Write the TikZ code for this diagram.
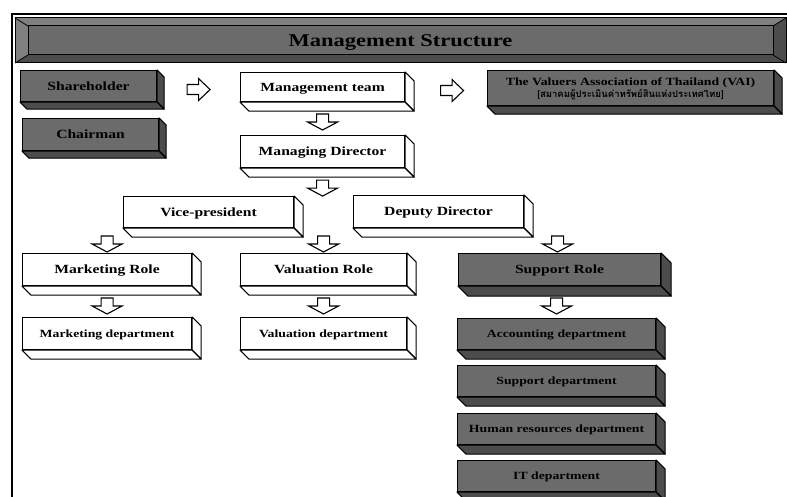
\documentclass[tikz,border=0pt]{standalone}
\usepackage{fontspec}
\setmainfont{Liberation Serif}[FakeStretch=1.25]
\newfontfamily\thaifont[Script=Thai]{Loma}
\usetikzlibrary{calc}

\definecolor{slab}{gray}{0.42}
\definecolor{slabside}{gray}{0.30}
\definecolor{slablight}{gray}{0.50}

\tikzset{
  box/.style={draw, line width=1.1pt, anchor=north west, inner sep=0pt, text depth=0pt,
    font=\bfseries\fontsize{12.5}{14}\selectfont},
  lightbox/.style={box, fill=white},
  darkbox/.style={box, fill=slab, text=black},
  small/.style={font=\bfseries\fontsize{11}{13}\selectfont},
  hollow/.style={draw, line width=1.1pt, fill=white, line join=miter},
  pics/downarrow/.style={code={
    \draw[hollow] (-6,-8) -- (6,-8) -- (6,0) -- (15,0) -- (0,8) -- (-15,0) -- (-6,0) -- cycle;}},
  pics/rightarrow/.style={code={
    \draw[hollow] (-11.5,-5) -- (0,-5) -- (0,-11) -- (11.5,0) -- (0,11) -- (0,5) -- (-11.5,5) -- cycle;}},
}

% side and bottom faces of an extruded box: node, depth, fill colour
\newcommand{\drawdepth}[3]{%
  \draw[line width=1.1pt, line join=round, fill=#3]
    (#1.north east) -- ++(#2,#2) -- ($(#1.south east)+(#2,#2)$) -- (#1.south east) -- cycle;
  \draw[line width=1.1pt, line join=round, fill=#3]
    (#1.south west) -- (#1.south east) -- ($(#1.south east)+(#2,#2)$) -- ($(#1.south west)+(#2,#2)$) -- cycle;
}

\begin{document}
\begin{tikzpicture}[x=1pt, y=-1pt]
\useasboundingbox (0,0) rectangle (787,497);
\clip (0,0) rectangle (787,497);
\fill[white] (0,0) rectangle (787,497);

% outer frame
\draw[line width=1.6pt] (12,500) -- (12,14) -- (790,14);

% title bar with bevelled rim
\fill[slab] (15,18) rectangle (786,63);
\fill[slablight] (15,18) -- (786,18) -- (773,26) -- (28,26) -- cycle;
\fill[slablight] (15,18) -- (28,26) -- (28,55) -- (15,63) -- cycle;
\fill[slabside] (15,63) -- (28,55) -- (773,55) -- (786,63) -- cycle;
\fill[slabside] (786,18) -- (773,26) -- (773,55) -- (786,63) -- cycle;
\draw[line width=1pt] (15,18) rectangle (786,63);
\draw[line width=0.8pt] (15,18) -- (28,26) (15,63) -- (28,55) (786,18) -- (773,26) (786,63) -- (773,55);
\node[draw, line width=1pt, fill=slab, inner sep=0pt, minimum width=745pt, minimum height=29pt,
  text depth=0pt, font=\bfseries\fontsize{18}{20}\selectfont] (title) at (400.5,40.5) {Management Structure};

% top row
\node[darkbox, minimum width=136pt, minimum height=31pt] (sh) at (20,70) {Shareholder};
\drawdepth{sh}{7}{slabside}
\node[darkbox, minimum width=136pt, minimum height=32pt] (ch) at (22,118) {Chairman};
\drawdepth{ch}{7}{slabside}
\node[lightbox, minimum width=164pt, minimum height=29pt] (mt) at (240,72) {Management team};
\drawdepth{mt}{9}{white}
\node[darkbox, small, align=center, minimum width=286pt, minimum height=35pt] (vai) at (487,70)
  {The Valuers Association of Thailand (VAI)\\[-1pt]
   {\thaifont\fontsize{9.5}{11}\selectfont [สมาคมผู้ประเมินค่าทรัพย์สินแห่งประเทศไทย]}};
\drawdepth{vai}{8}{slabside}

% management line
\node[lightbox, minimum width=164pt, minimum height=32pt] (md) at (240,135) {Managing Director};
\drawdepth{md}{9}{white}
\node[lightbox, minimum width=170pt, minimum height=31pt] (vp) at (123,196) {Vice-president};
\drawdepth{vp}{9}{white}
\node[lightbox, minimum width=170pt, minimum height=32pt] (dd) at (353,195) {Deputy Director};
\drawdepth{dd}{9}{white}

% roles
\node[lightbox, minimum width=169pt, minimum height=32pt] (mr) at (22,253) {Marketing Role};
\drawdepth{mr}{9}{white}
\node[lightbox, minimum width=166pt, minimum height=32pt] (vr) at (240,253) {Valuation Role};
\drawdepth{vr}{9}{white}
\node[darkbox, minimum width=202pt, minimum height=32pt] (sr) at (458,253) {Support Role};
\drawdepth{sr}{10}{slabside}

% departments
\node[lightbox, small, minimum width=169pt, minimum height=32pt] (mk) at (22,317) {Marketing department};
\drawdepth{mk}{9}{white}
\node[lightbox, small, minimum width=166pt, minimum height=32pt] (vd) at (240,317) {Valuation department};
\drawdepth{vd}{9}{white}
\node[darkbox, small, minimum width=198pt, minimum height=31pt] (ad) at (457,318) {Accounting department};
\drawdepth{ad}{9}{slabside}
\node[darkbox, small, minimum width=198pt, minimum height=31pt] (sd) at (457,365) {Support department};
\drawdepth{sd}{9}{slabside}
\node[darkbox, small, minimum width=198pt, minimum height=31pt] (hr) at (457,413) {Human resources department};
\drawdepth{hr}{9}{slabside}
\node[darkbox, small, minimum width=198pt, minimum height=31pt] (it) at (457,460) {IT department};
\drawdepth{it}{9}{slabside}

% block arrows between the boxes
\pic at ($(sh.east)!.5!(mt.west)+(0,3)$) {rightarrow};
\pic at ($(mt.east)!.5!(vai.west)+(6,3)$) {rightarrow};
\pic at ($(md.north)+(0,-13)$) {downarrow};
\pic at ($(md.south)+(0,20)$) {downarrow};
\pic at ($(mr.north)+(0,-9)$) {downarrow};
\pic at ($(vr.north)+(0,-9)$) {downarrow};
\pic at ($(sr.north)+(-2,-9)$) {downarrow};
\pic at ($(mk.north)+(0,-11)$) {downarrow};
\pic at ($(vd.north)+(0,-11)$) {downarrow};
\pic at ($(ad.north)+(0,-12)$) {downarrow};
\end{tikzpicture}
\end{document}
